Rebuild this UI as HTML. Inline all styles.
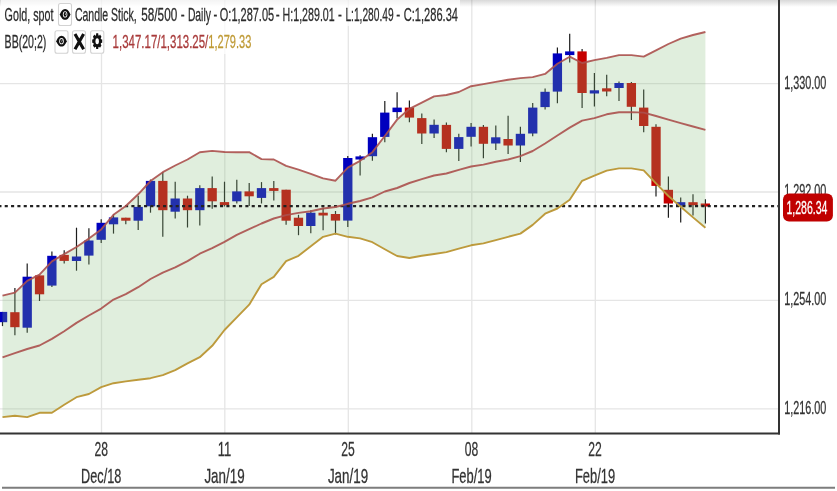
<!DOCTYPE html>
<html><head><meta charset="utf-8"><title>Gold, spot</title>
<style>html,body{margin:0;padding:0;background:#fff}body{width:837px;height:491px;overflow:hidden}svg{display:block}text{font-family:"Liberation Sans",Arial,sans-serif}</style></head><body>
<svg width="837" height="491" viewBox="0 0 837 491">
<defs><linearGradient id="sh" x1="0" y1="0" x2="0" y2="1"><stop offset="0" stop-color="#000" stop-opacity="0.15"/><stop offset="1" stop-color="#000" stop-opacity="0"/></linearGradient></defs>
<rect width="837" height="491" fill="#fff"/>
<g stroke="#e5e5e5" stroke-width="1.3"><line x1="0" y1="83.7" x2="779.0" y2="83.7"/><line x1="0" y1="192.0" x2="779.0" y2="192.0"/><line x1="0" y1="300.4" x2="779.0" y2="300.4"/><line x1="0" y1="408.8" x2="779.0" y2="408.8"/><line x1="101.5" y1="0" x2="101.5" y2="433.5"/><line x1="224.8" y1="0" x2="224.8" y2="433.5"/><line x1="348.3" y1="0" x2="348.3" y2="433.5"/><line x1="471.8" y1="0" x2="471.8" y2="433.5"/><line x1="595.3" y1="0" x2="595.3" y2="433.5"/></g>
<g stroke="#1c1c1c" stroke-width="1.2"><line x1="2.5" y1="311.9" x2="2.5" y2="326.1"/><line x1="14.9" y1="288.0" x2="14.9" y2="335.3"/><line x1="27.2" y1="263.4" x2="27.2" y2="332.8"/><line x1="39.5" y1="275.4" x2="39.5" y2="301.0"/><line x1="51.9" y1="251.6" x2="51.9" y2="287.0"/><line x1="64.2" y1="250.3" x2="64.2" y2="263.4"/><line x1="76.5" y1="227.7" x2="76.5" y2="270.7"/><line x1="88.9" y1="228.2" x2="88.9" y2="264.5"/><line x1="101.2" y1="219.3" x2="101.2" y2="243.0"/><line x1="113.5" y1="214.2" x2="113.5" y2="233.6"/><line x1="125.8" y1="217.7" x2="125.8" y2="224.3"/><line x1="138.2" y1="195.7" x2="138.2" y2="230.0"/><line x1="150.5" y1="179.6" x2="150.5" y2="212.7"/><line x1="162.8" y1="172.0" x2="162.8" y2="236.8"/><line x1="175.2" y1="181.8" x2="175.2" y2="218.6"/><line x1="187.5" y1="195.7" x2="187.5" y2="227.5"/><line x1="199.8" y1="185.2" x2="199.8" y2="225.4"/><line x1="212.2" y1="176.4" x2="212.2" y2="208.8"/><line x1="224.5" y1="181.7" x2="224.5" y2="206.5"/><line x1="236.8" y1="179.7" x2="236.8" y2="203.5"/><line x1="249.2" y1="183.1" x2="249.2" y2="206.0"/><line x1="261.5" y1="182.1" x2="261.5" y2="203.5"/><line x1="273.8" y1="180.9" x2="273.8" y2="200.6"/><line x1="286.1" y1="189.7" x2="286.1" y2="224.7"/><line x1="298.5" y1="214.8" x2="298.5" y2="235.2"/><line x1="310.8" y1="210.2" x2="310.8" y2="233.2"/><line x1="323.1" y1="207.6" x2="323.1" y2="230.2"/><line x1="335.5" y1="211.0" x2="335.5" y2="234.5"/><line x1="347.8" y1="156.0" x2="347.8" y2="226.9"/><line x1="360.1" y1="155.3" x2="360.1" y2="175.4"/><line x1="372.4" y1="133.8" x2="372.4" y2="160.8"/><line x1="384.8" y1="100.9" x2="384.8" y2="142.2"/><line x1="397.1" y1="92.2" x2="397.1" y2="118.5"/><line x1="409.4" y1="100.4" x2="409.4" y2="122.3"/><line x1="421.8" y1="113.4" x2="421.8" y2="143.9"/><line x1="434.1" y1="119.6" x2="434.1" y2="138.0"/><line x1="446.4" y1="122.6" x2="446.4" y2="152.2"/><line x1="458.8" y1="133.8" x2="458.8" y2="161.1"/><line x1="471.1" y1="123.1" x2="471.1" y2="146.4"/><line x1="483.4" y1="125.1" x2="483.4" y2="158.2"/><line x1="495.8" y1="125.5" x2="495.8" y2="149.9"/><line x1="508.1" y1="115.8" x2="508.1" y2="154.0"/><line x1="520.4" y1="126.8" x2="520.4" y2="161.9"/><line x1="532.7" y1="102.9" x2="532.7" y2="136.3"/><line x1="545.1" y1="88.5" x2="545.1" y2="109.6"/><line x1="557.4" y1="47.6" x2="557.4" y2="103.3"/><line x1="569.7" y1="33.7" x2="569.7" y2="62.6"/><line x1="582.1" y1="48.9" x2="582.1" y2="108.1"/><line x1="594.4" y1="73.0" x2="594.4" y2="106.4"/><line x1="606.7" y1="74.7" x2="606.7" y2="96.3"/><line x1="619.0" y1="81.4" x2="619.0" y2="101.1"/><line x1="631.4" y1="82.0" x2="631.4" y2="120.1"/><line x1="643.7" y1="89.6" x2="643.7" y2="132.3"/><line x1="656.0" y1="124.3" x2="656.0" y2="196.5"/><line x1="668.4" y1="176.4" x2="668.4" y2="217.7"/><line x1="680.7" y1="197.6" x2="680.7" y2="222.4"/><line x1="693.0" y1="194.3" x2="693.0" y2="215.5"/><line x1="705.4" y1="199.3" x2="705.4" y2="223.6"/></g>
<g><rect x="-2.10" y="311.9" width="9.3" height="10.3" fill="#0000be"/><rect x="10.23" y="312.2" width="9.3" height="15.0" fill="#c60000"/><rect x="22.56" y="276.7" width="9.3" height="51.0" fill="#0000be"/><rect x="34.89" y="275.4" width="9.3" height="18.9" fill="#c60000"/><rect x="47.22" y="255.8" width="9.3" height="29.8" fill="#0000be"/><rect x="59.55" y="254.9" width="9.3" height="6.0" fill="#c60000"/><rect x="71.88" y="256.5" width="9.3" height="4.5" fill="#0000be"/><rect x="84.21" y="240.5" width="9.3" height="15.1" fill="#0000be"/><rect x="96.54" y="222.8" width="9.3" height="17.0" fill="#0000be"/><rect x="108.87" y="217.4" width="9.3" height="6.9" fill="#0000be"/><rect x="121.20" y="217.7" width="9.3" height="3.0" fill="#c60000"/><rect x="133.53" y="206.9" width="9.3" height="13.8" fill="#0000be"/><rect x="145.86" y="180.9" width="9.3" height="25.4" fill="#0000be"/><rect x="158.19" y="180.9" width="9.3" height="29.3" fill="#c60000"/><rect x="170.52" y="198.5" width="9.3" height="13.2" fill="#0000be"/><rect x="182.85" y="198.5" width="9.3" height="11.7" fill="#c60000"/><rect x="195.18" y="188.1" width="9.3" height="22.1" fill="#0000be"/><rect x="207.51" y="188.1" width="9.3" height="13.2" fill="#c60000"/><rect x="219.84" y="202.1" width="9.3" height="3.0" fill="#c60000"/><rect x="232.17" y="191.4" width="9.3" height="9.9" fill="#0000be"/><rect x="244.50" y="191.4" width="9.3" height="4.9" fill="#c60000"/><rect x="256.83" y="188.1" width="9.3" height="9.8" fill="#0000be"/><rect x="269.16" y="188.1" width="9.3" height="2.8" fill="#c60000"/><rect x="281.49" y="189.7" width="9.3" height="31.0" fill="#c60000"/><rect x="293.82" y="217.7" width="9.3" height="8.3" fill="#c60000"/><rect x="306.15" y="212.7" width="9.3" height="13.3" fill="#0000be"/><rect x="318.48" y="212.7" width="9.3" height="2.8" fill="#c60000"/><rect x="330.81" y="214.0" width="9.3" height="6.6" fill="#c60000"/><rect x="343.14" y="158.0" width="9.3" height="62.6" fill="#0000be"/><rect x="355.47" y="156.4" width="9.3" height="3.1" fill="#0000be"/><rect x="367.80" y="137.2" width="9.3" height="19.0" fill="#0000be"/><rect x="380.13" y="112.6" width="9.3" height="24.3" fill="#0000be"/><rect x="392.46" y="107.6" width="9.3" height="4.5" fill="#0000be"/><rect x="404.79" y="107.6" width="9.3" height="10.0" fill="#c60000"/><rect x="417.12" y="118.1" width="9.3" height="15.4" fill="#c60000"/><rect x="429.45" y="124.8" width="9.3" height="8.7" fill="#0000be"/><rect x="441.78" y="124.9" width="9.3" height="24.0" fill="#c60000"/><rect x="454.11" y="137.1" width="9.3" height="11.8" fill="#0000be"/><rect x="466.44" y="126.8" width="9.3" height="10.0" fill="#0000be"/><rect x="478.77" y="126.8" width="9.3" height="17.0" fill="#c60000"/><rect x="491.10" y="137.3" width="9.3" height="6.2" fill="#0000be"/><rect x="503.43" y="139.0" width="9.3" height="6.5" fill="#c60000"/><rect x="515.76" y="133.8" width="9.3" height="11.7" fill="#0000be"/><rect x="528.09" y="107.6" width="9.3" height="25.9" fill="#0000be"/><rect x="540.42" y="91.8" width="9.3" height="15.3" fill="#0000be"/><rect x="552.75" y="53.4" width="9.3" height="38.2" fill="#0000be"/><rect x="565.08" y="51.4" width="9.3" height="3.7" fill="#0000be"/><rect x="577.41" y="51.4" width="9.3" height="41.6" fill="#c60000"/><rect x="589.74" y="90.3" width="9.3" height="3.2" fill="#0000be"/><rect x="602.07" y="88.3" width="9.3" height="3.2" fill="#c60000"/><rect x="614.40" y="83.0" width="9.3" height="5.0" fill="#0000be"/><rect x="626.73" y="83.0" width="9.3" height="23.8" fill="#c60000"/><rect x="639.06" y="107.6" width="9.3" height="18.4" fill="#c60000"/><rect x="651.39" y="126.8" width="9.3" height="59.1" fill="#c60000"/><rect x="663.72" y="189.8" width="9.3" height="13.7" fill="#c60000"/><rect x="676.05" y="202.2" width="9.3" height="3.3" fill="#0000be"/><rect x="688.38" y="202.2" width="9.3" height="3.0" fill="#c60000"/><rect x="700.71" y="203.5" width="9.3" height="3.0" fill="#c60000"/></g>
<polygon points="2.5,295.6 14.9,292.6 27.2,280.9 39.5,274.7 51.9,261.4 64.2,254.1 76.5,247.0 88.9,238.6 101.2,229.4 113.5,214.8 125.8,206.0 138.2,194.3 150.5,181.0 162.8,172.2 175.2,165.5 187.5,159.5 199.8,152.2 212.2,150.9 224.5,152.0 236.8,152.2 249.2,152.2 261.5,159.1 273.8,159.5 286.1,165.9 298.5,169.7 310.8,173.8 323.1,178.4 335.5,180.7 347.8,167.6 360.1,160.8 372.4,152.2 384.8,136.0 397.1,119.6 409.4,108.8 421.8,102.6 434.1,96.4 446.4,95.0 458.8,92.0 471.1,86.2 483.4,84.1 495.8,81.9 508.1,79.8 520.4,78.1 532.7,77.1 545.1,73.9 557.4,63.8 569.7,56.7 582.1,63.0 594.4,60.1 606.7,57.9 619.0,55.1 631.4,55.1 643.7,56.6 656.0,50.4 668.4,44.0 680.7,38.6 693.0,35.0 705.4,32.0 705.4,227.7 693.0,217.4 680.7,206.8 668.4,196.0 656.0,183.4 643.7,170.4 631.4,168.4 619.0,168.4 606.7,170.6 594.4,175.6 582.1,180.8 569.7,199.7 557.4,208.5 545.1,213.7 532.7,224.9 520.4,233.6 508.1,236.8 495.8,240.2 483.4,243.4 471.1,245.3 458.8,248.7 446.4,252.1 434.1,254.0 421.8,255.8 409.4,258.0 397.1,256.0 384.8,249.3 372.4,242.2 360.1,238.4 347.8,236.8 335.5,233.7 323.1,236.8 310.8,246.3 298.5,255.8 286.1,261.2 273.8,276.9 261.5,284.2 249.2,304.7 236.8,317.4 224.5,330.0 212.2,345.8 199.8,357.2 187.5,363.4 175.2,370.1 162.8,375.2 150.5,378.2 138.2,379.7 125.8,381.4 113.5,383.2 101.2,387.2 88.9,394.0 76.5,397.2 64.2,404.8 51.9,412.8 39.5,412.8 27.2,417.1 14.9,415.8 2.5,417.1" fill="rgb(137,190,122)" fill-opacity="0.26"/>
<line x1="0" y1="206.1" x2="779.0" y2="206.1" stroke="#222" stroke-width="2.2" stroke-dasharray="3.1 3.233" stroke-dashoffset="1.63"/>
<polyline points="2.5,295.6 14.9,292.6 27.2,280.9 39.5,274.7 51.9,261.4 64.2,254.1 76.5,247.0 88.9,238.6 101.2,229.4 113.5,214.8 125.8,206.0 138.2,194.3 150.5,181.0 162.8,172.2 175.2,165.5 187.5,159.5 199.8,152.2 212.2,150.9 224.5,152.0 236.8,152.2 249.2,152.2 261.5,159.1 273.8,159.5 286.1,165.9 298.5,169.7 310.8,173.8 323.1,178.4 335.5,180.7 347.8,167.6 360.1,160.8 372.4,152.2 384.8,136.0 397.1,119.6 409.4,108.8 421.8,102.6 434.1,96.4 446.4,95.0 458.8,92.0 471.1,86.2 483.4,84.1 495.8,81.9 508.1,79.8 520.4,78.1 532.7,77.1 545.1,73.9 557.4,63.8 569.7,56.7 582.1,63.0 594.4,60.1 606.7,57.9 619.0,55.1 631.4,55.1 643.7,56.6 656.0,50.4 668.4,44.0 680.7,38.6 693.0,35.0 705.4,32.0" fill="none" stroke="#ab504c" stroke-width="1.9" stroke-opacity="0.9" stroke-linejoin="round"/>
<polyline points="2.5,357.3 14.9,353.2 27.2,349.0 39.5,345.5 51.9,338.9 64.2,331.2 76.5,322.9 88.9,315.5 101.2,308.6 113.5,299.6 125.8,294.1 138.2,287.2 150.5,279.0 162.8,272.6 175.2,267.4 187.5,261.1 199.8,253.7 212.2,248.2 224.5,241.9 236.8,234.9 249.2,229.2 261.5,223.5 273.8,218.5 286.1,215.1 298.5,212.9 310.8,211.3 323.1,208.5 335.5,207.0 347.8,203.8 360.1,201.0 372.4,197.3 384.8,191.5 397.1,188.0 409.4,183.0 421.8,179.2 434.1,175.5 446.4,173.5 458.8,169.8 471.1,166.5 483.4,164.6 495.8,161.8 508.1,159.5 520.4,156.1 532.7,151.0 545.1,143.5 557.4,135.5 569.7,127.6 582.1,120.6 594.4,118.1 606.7,114.3 619.0,112.3 631.4,112.1 643.7,112.6 656.0,116.0 668.4,119.6 680.7,123.1 693.0,126.5 705.4,129.8" fill="none" stroke="#ab504c" stroke-width="1.9" stroke-opacity="0.9" stroke-linejoin="round"/>
<polyline points="2.5,417.1 14.9,415.8 27.2,417.1 39.5,412.8 51.9,412.8 64.2,404.8 76.5,397.2 88.9,394.0 101.2,387.2 113.5,383.2 125.8,381.4 138.2,379.7 150.5,378.2 162.8,375.2 175.2,370.1 187.5,363.4 199.8,357.2 212.2,345.8 224.5,330.0 236.8,317.4 249.2,304.7 261.5,284.2 273.8,276.9 286.1,261.2 298.5,255.8 310.8,246.3 323.1,236.8 335.5,233.7 347.8,236.8 360.1,238.4 372.4,242.2 384.8,249.3 397.1,256.0 409.4,258.0 421.8,255.8 434.1,254.0 446.4,252.1 458.8,248.7 471.1,245.3 483.4,243.4 495.8,240.2 508.1,236.8 520.4,233.6 532.7,224.9 545.1,213.7 557.4,208.5 569.7,199.7 582.1,180.8 594.4,175.6 606.7,170.6 619.0,168.4 631.4,168.4 643.7,170.4 656.0,183.4 668.4,196.0 680.7,206.8 693.0,217.4 705.4,227.7" fill="none" stroke="#bd9a3c" stroke-width="1.9" stroke-linejoin="round"/>
<rect x="0" y="0" width="837" height="7" fill="url(#sh)"/>
<rect x="1" y="0" width="459" height="26" fill="#fff" fill-opacity="0.7"/>
<rect x="1" y="26" width="253" height="28" fill="#fff" fill-opacity="0.7"/>
<line x1="779.0" y1="0" x2="779.0" y2="434.5" stroke="#333" stroke-width="2"/>
<line x1="0" y1="433.5" x2="780.0" y2="433.5" stroke="#333" stroke-width="2"/>
<line x1="2" y1="487.7" x2="835" y2="487.7" stroke="#7d7d7d" stroke-width="2"/>
<text x="784.2" y="88.5" font-size="18.6" fill="#333" stroke="#333" stroke-width="0.28" text-anchor="start" textLength="42.2" lengthAdjust="spacingAndGlyphs">1,330.00</text>
<text x="784.2" y="196.8" font-size="18.6" fill="#333" stroke="#333" stroke-width="0.28" text-anchor="start" textLength="42.2" lengthAdjust="spacingAndGlyphs">1,292.00</text>
<text x="784.2" y="305.2" font-size="18.6" fill="#333" stroke="#333" stroke-width="0.28" text-anchor="start" textLength="42.2" lengthAdjust="spacingAndGlyphs">1,254.00</text>
<text x="784.2" y="413.6" font-size="18.6" fill="#333" stroke="#333" stroke-width="0.28" text-anchor="start" textLength="42.2" lengthAdjust="spacingAndGlyphs">1,216.00</text>
<text x="101.2" y="456.3" font-size="20.2" fill="#333" stroke="#333" stroke-width="0.28" text-anchor="middle" textLength="13.5" lengthAdjust="spacingAndGlyphs">28</text>
<text x="101.2" y="483.0" font-size="20.2" fill="#333" stroke="#333" stroke-width="0.28" text-anchor="middle" textLength="40.2" lengthAdjust="spacingAndGlyphs">Dec/18</text>
<text x="224.5" y="456.3" font-size="20.2" fill="#333" stroke="#333" stroke-width="0.28" text-anchor="middle" textLength="13.5" lengthAdjust="spacingAndGlyphs">11</text>
<text x="224.5" y="483.0" font-size="20.2" fill="#333" stroke="#333" stroke-width="0.28" text-anchor="middle" textLength="40.2" lengthAdjust="spacingAndGlyphs">Jan/19</text>
<text x="348.0" y="456.3" font-size="20.2" fill="#333" stroke="#333" stroke-width="0.28" text-anchor="middle" textLength="13.5" lengthAdjust="spacingAndGlyphs">25</text>
<text x="348.0" y="483.0" font-size="20.2" fill="#333" stroke="#333" stroke-width="0.28" text-anchor="middle" textLength="40.2" lengthAdjust="spacingAndGlyphs">Jan/19</text>
<text x="471.5" y="456.3" font-size="20.2" fill="#333" stroke="#333" stroke-width="0.28" text-anchor="middle" textLength="13.5" lengthAdjust="spacingAndGlyphs">08</text>
<text x="471.5" y="483.0" font-size="20.2" fill="#333" stroke="#333" stroke-width="0.28" text-anchor="middle" textLength="40.2" lengthAdjust="spacingAndGlyphs">Feb/19</text>
<text x="595.0" y="456.3" font-size="20.2" fill="#333" stroke="#333" stroke-width="0.28" text-anchor="middle" textLength="13.5" lengthAdjust="spacingAndGlyphs">22</text>
<text x="595.0" y="483.0" font-size="20.2" fill="#333" stroke="#333" stroke-width="0.28" text-anchor="middle" textLength="40.2" lengthAdjust="spacingAndGlyphs">Feb/19</text>
<rect x="783" y="193.4" width="49.9" height="28.2" rx="6" ry="6" fill="#c00000"/>
<text x="786.4" y="214.2" font-size="18.6" fill="#fff" stroke="#fff" stroke-width="0.28" text-anchor="start" textLength="41.0" lengthAdjust="spacingAndGlyphs">1,286.34</text>
<text x="4.6" y="21.0" font-size="18.6" fill="#2b2b2b" stroke="#2b2b2b" stroke-width="0.28" text-anchor="start" textLength="48.8" lengthAdjust="spacingAndGlyphs">Gold, spot</text>
<text x="74.9" y="21.0" font-size="18.6" fill="#2b2b2b" stroke="#2b2b2b" stroke-width="0.28" text-anchor="start" textLength="61.9" lengthAdjust="spacingAndGlyphs">Candle Stick,</text>
<text x="141.3" y="21.0" font-size="18.6" fill="#2b2b2b" stroke="#2b2b2b" stroke-width="0.28" text-anchor="start" textLength="35.9" lengthAdjust="spacingAndGlyphs">58/500</text>
<text x="180.7" y="21.0" font-size="18.6" fill="#2b2b2b" stroke="#2b2b2b" stroke-width="0.28" text-anchor="start" textLength="3.9" lengthAdjust="spacingAndGlyphs">-</text>
<text x="187.9" y="21.0" font-size="18.6" fill="#2b2b2b" stroke="#2b2b2b" stroke-width="0.28" text-anchor="start" textLength="23.0" lengthAdjust="spacingAndGlyphs">Daily</text>
<text x="213.6" y="21.0" font-size="18.6" fill="#2b2b2b" stroke="#2b2b2b" stroke-width="0.28" text-anchor="start" textLength="3.8" lengthAdjust="spacingAndGlyphs">-</text>
<text x="219.8" y="21.0" font-size="18.6" fill="#2b2b2b" stroke="#2b2b2b" stroke-width="0.28" text-anchor="start" textLength="54.3" lengthAdjust="spacingAndGlyphs">O:1,287.05</text>
<text x="275.8" y="21.0" font-size="18.6" fill="#2b2b2b" stroke="#2b2b2b" stroke-width="0.28" text-anchor="start" textLength="3.9" lengthAdjust="spacingAndGlyphs">-</text>
<text x="282.6" y="21.0" font-size="18.6" fill="#2b2b2b" stroke="#2b2b2b" stroke-width="0.28" text-anchor="start" textLength="52.1" lengthAdjust="spacingAndGlyphs">H:1,289.01</text>
<text x="337.9" y="21.0" font-size="18.6" fill="#2b2b2b" stroke="#2b2b2b" stroke-width="0.28" text-anchor="start" textLength="3.9" lengthAdjust="spacingAndGlyphs">-</text>
<text x="345.4" y="21.0" font-size="18.6" fill="#2b2b2b" stroke="#2b2b2b" stroke-width="0.28" text-anchor="start" textLength="48.3" lengthAdjust="spacingAndGlyphs">L:1,280.49</text>
<text x="396.2" y="21.0" font-size="18.6" fill="#2b2b2b" stroke="#2b2b2b" stroke-width="0.28" text-anchor="start" textLength="4.0" lengthAdjust="spacingAndGlyphs">-</text>
<text x="403.8" y="21.0" font-size="18.6" fill="#2b2b2b" stroke="#2b2b2b" stroke-width="0.28" text-anchor="start" textLength="54.2" lengthAdjust="spacingAndGlyphs">C:1,286.34</text>
<text x="4.6" y="47.55" font-size="18.6" fill="#2b2b2b" stroke="#2b2b2b" stroke-width="0.28" text-anchor="start" textLength="41.7" lengthAdjust="spacingAndGlyphs">BB(20;2)</text>
<text x="112.6" y="47.55" font-size="18.6" fill="#a83a3a" stroke="#a83a3a" stroke-width="0.28" text-anchor="start" textLength="95.7" lengthAdjust="spacingAndGlyphs">1,347.17/1,313.25/</text>
<text x="208.3" y="47.55" font-size="18.6" fill="#bf9a35" stroke="#bf9a35" stroke-width="0.28" text-anchor="start" textLength="43" lengthAdjust="spacingAndGlyphs">1,279.33</text>
<rect x="58.5" y="3.5" width="13" height="22" rx="2" ry="2" fill="#fff" stroke="#d2d2d2" stroke-width="1.1"/>
<g transform="translate(65.1,14.4)"><path d="M-5.3,0 C-4.3,-2.6 -2.5,-5.4 0,-5.4 C2.5,-5.4 4.3,-2.6 5.3,0 C4.3,2.6 2.5,5.4 0,5.4 C-2.5,5.4 -4.3,2.6 -5.3,0 Z" fill="#111"/><ellipse cx="0" cy="0" rx="2.25" ry="3.15" fill="#fff"/><ellipse cx="0" cy="0" rx="1.45" ry="2.3" fill="#111"/><ellipse cx="0.3" cy="-0.4" rx="0.3" ry="1.0" fill="#fff" transform="rotate(18)"/></g>
<rect x="55" y="30.8" width="13" height="22.5" rx="2" ry="2" fill="#fff" stroke="#d2d2d2" stroke-width="1.1"/>
<g transform="translate(61.5,41.2)"><path d="M-5.3,0 C-4.3,-2.6 -2.5,-5.4 0,-5.4 C2.5,-5.4 4.3,-2.6 5.3,0 C4.3,2.6 2.5,5.4 0,5.4 C-2.5,5.4 -4.3,2.6 -5.3,0 Z" fill="#111"/><ellipse cx="0" cy="0" rx="2.25" ry="3.15" fill="#fff"/><ellipse cx="0" cy="0" rx="1.45" ry="2.3" fill="#111"/><ellipse cx="0.3" cy="-0.4" rx="0.3" ry="1.0" fill="#fff" transform="rotate(18)"/></g>
<rect x="72.5" y="30.8" width="13" height="22.5" rx="2" ry="2" fill="#fff" stroke="#d2d2d2" stroke-width="1.1"/>
<path d="M75.0,34.0 L83.6,49.2 M83.6,34.0 L75.0,49.2" stroke="#111" stroke-width="3.1" fill="none" stroke-linecap="butt"/>
<rect x="90.6" y="30.8" width="13.2" height="22.5" rx="2" ry="2" fill="#fff" stroke="#d2d2d2" stroke-width="1.1"/>
<path d="M96.02,35.24 L96.19,33.36 L98.21,33.36 L98.38,35.24 L99.06,35.68 L100.02,34.53 L101.45,36.78 L100.72,38.29 L101.00,39.36 L102.20,39.61 L102.20,42.79 L101.00,43.04 L100.72,44.11 L101.45,45.62 L100.02,47.87 L99.06,46.72 L98.38,47.16 L98.21,49.04 L96.19,49.04 L96.02,47.16 L95.34,46.72 L94.38,47.87 L92.95,45.62 L93.68,44.11 L93.40,43.04 L92.20,42.79 L92.20,39.61 L93.40,39.36 L93.68,38.29 L92.95,36.78 L94.38,34.53 L95.34,35.68 Z" fill="#111"/><ellipse cx="97.2" cy="41.2" rx="1.73" ry="3.04" fill="#fff"/>
</svg></body></html>
